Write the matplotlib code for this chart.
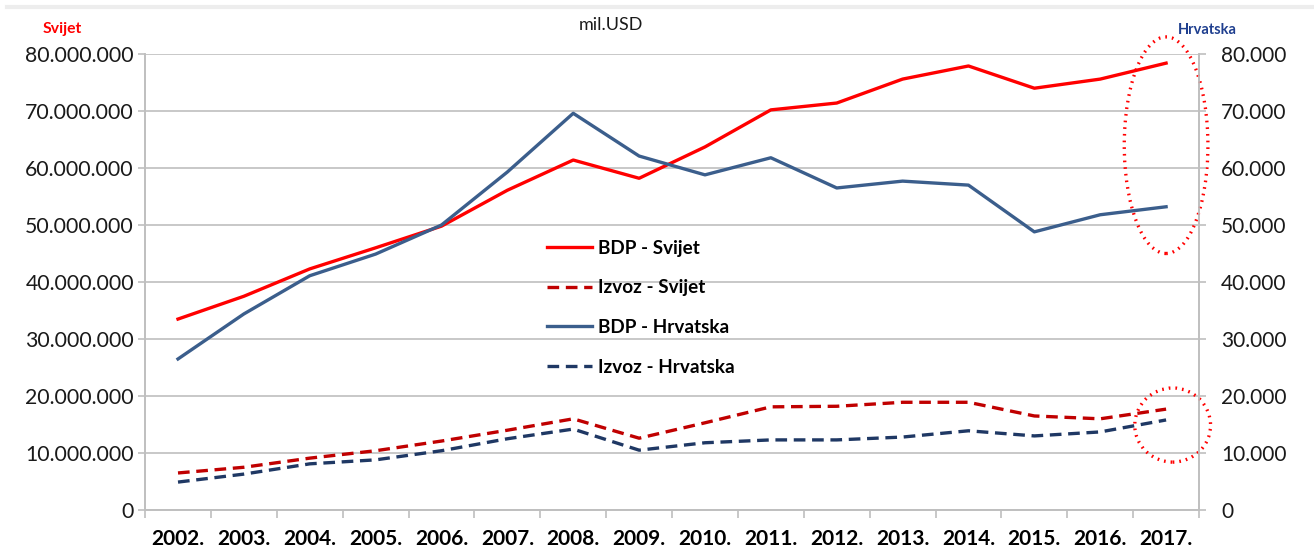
import matplotlib
matplotlib.use("Agg")
import matplotlib.pyplot as plt
from matplotlib.patches import Ellipse
from matplotlib.lines import Line2D
from matplotlib.ticker import FuncFormatter, FixedLocator
import numpy as np

plt.rcParams['font.family'] = ['Lato', 'DejaVu Sans']

years = ["2002.", "2003.", "2004.", "2005.", "2006.", "2007.", "2008.", "2009.",
         "2010.", "2011.", "2012.", "2013.", "2014.", "2015.", "2016.", "2017."]

# World (mil. USD), left axis
bdp_svijet = [33.5, 37.5, 42.3, 46.0, 49.8, 56.1, 61.4, 58.2, 63.7, 70.2, 71.4, 75.6, 77.9, 74.0, 75.6, 78.4]
izvoz_svijet = [6.5, 7.5, 9.1, 10.4, 12.1, 14.0, 16.0, 12.6, 15.3, 18.1, 18.2, 18.9, 18.9, 16.5, 16.0, 17.7]
# Croatia (mil. USD), right axis
bdp_hrvatska = [26.5, 34.4, 41.1, 44.9, 50.0, 59.3, 69.6, 62.1, 58.8, 61.8, 56.5, 57.7, 57.0, 48.8, 51.8, 53.2]
izvoz_hrvatska = [4.9, 6.3, 8.1, 8.8, 10.4, 12.5, 14.2, 10.5, 11.8, 12.3, 12.3, 12.8, 13.9, 13.0, 13.7, 15.8]

bdp_svijet = np.array(bdp_svijet) * 1e6
izvoz_svijet = np.array(izvoz_svijet) * 1e6
bdp_hrvatska = np.array(bdp_hrvatska) * 1e3
izvoz_hrvatska = np.array(izvoz_hrvatska) * 1e3

fig = plt.figure(figsize=(13.14, 5.54), dpi=100)
# faint top border band
fig.add_artist(Line2D([0.005, 1.0], [0.988, 0.988], transform=fig.transFigure,
                      color='#EDEDED', lw=3))
ax = fig.add_axes([0.1104, 0.0794, 0.8021, 0.8231])
ax2 = ax.twinx()

x = np.arange(len(years))
grid_c = '#BFBFBF'

l1, = ax.plot(x, bdp_svijet, color='#FF0000', lw=2.4, label='BDP - Svijet')
l2, = ax.plot(x, izvoz_svijet, color='#C00000', lw=2.4, ls=(0, (3.5, 2)), label='Izvoz - Svijet')
l3, = ax2.plot(x, bdp_hrvatska, color='#3B5E8C', lw=2.4, label='BDP - Hrvatska')
l4, = ax2.plot(x, izvoz_hrvatska, color='#1F3864', lw=2.4, ls=(0, (3.5, 2)), label='Izvoz - Hrvatska')

ax.set_xlim(-0.5, len(years) - 0.5)
ax.set_ylim(0, 80e6)
ax2.set_ylim(0, 80e3)
ax.set_yticks(np.arange(0, 80e6 + 1, 10e6))
ax2.set_yticks(np.arange(0, 80e3 + 1, 10e3))

fmt = FuncFormatter(lambda v, p: f"{v:,.0f}".replace(",", "."))
ax.yaxis.set_major_formatter(fmt)
ax2.yaxis.set_major_formatter(fmt)

ax.grid(axis='y', color=grid_c, lw=1.2)
ax.set_axisbelow(True)

ax.set_xticks(x)
ax.set_xticklabels(years, fontweight='bold', fontsize=15)
ax.xaxis.set_minor_locator(FixedLocator(np.arange(-0.5, len(years), 1)))
ax.tick_params(axis='x', which='major', length=0, pad=14)
ax.tick_params(axis='x', which='minor', length=6, color=grid_c, width=1.2)
ax.tick_params(axis='y', length=5, color=grid_c, width=1.2, labelsize=15.3, pad=3, labelcolor='#1a1a1a')
ax2.tick_params(axis='y', length=5, color=grid_c, width=1.2, labelsize=15, pad=11, labelcolor='#1a1a1a')

for a in (ax, ax2):
    a.spines['top'].set_visible(False)
    for s in ('left', 'right', 'bottom'):
        a.spines[s].set_color(grid_c)
        a.spines[s].set_linewidth(1.2)

# Highlight ellipses
e1 = Ellipse((15.0, 64e6), 1.27, 38e6, fill=False, ec='#FF0000', lw=2.4,
             ls=(0, (0.5, 1.5)), clip_on=False)
e2 = Ellipse((15.1, 14.9e6), 1.15, 13e6, fill=False, ec='#FF0000', lw=2.4,
             ls=(0, (0.5, 1.5)), clip_on=False)
ax2.add_patch(e1)
ax2.add_patch(e2)
e1.set_transform(ax.transData)
e2.set_transform(ax.transData)

leg = ax2.legend(handles=[l1, l2, l3, l4], loc='upper left',
                 bbox_to_anchor=(0.365, 0.63), frameon=False,
                 prop={'weight': 'bold', 'size': 13.6}, handlelength=2.4,
                 labelspacing=1.2, handletextpad=0.3)

fig.text(0.465, 0.955, "mil.USD", fontsize=13, ha='center', va='center', color='#1a1a1a')
fig.text(0.047, 0.948, "Svijet", fontsize=11.3, fontweight='bold', color='#FF0000', ha='center', va='center')
fig.text(0.9186, 0.945, "Hrvatska", fontsize=10.5, fontweight='bold', color='#1F3F8F', ha='center', va='center')

fig.savefig("out.png", dpi=100)
